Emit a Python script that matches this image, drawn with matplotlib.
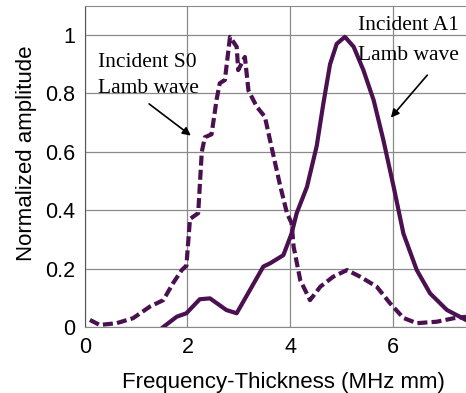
import matplotlib
matplotlib.use('Agg')
import matplotlib.pyplot as plt

# incident S0 Lamb wave (dashed)
s0_x = [0.10, 0.29, 0.62, 0.94, 1.27, 1.53, 1.72, 1.89, 1.98, 2.05, 2.21, 2.28,
        2.34, 2.47, 2.57, 2.63, 2.73, 2.83, 2.96, 2.99, 3.12, 3.19, 3.35, 3.51,
        3.61, 3.80, 3.94, 4.03, 4.07, 4.20, 4.39, 4.59, 4.84, 5.11, 5.37, 5.69,
        5.95, 6.21, 6.47, 6.86, 7.19, 7.43]
s0_y = [0.024, 0.007, 0.013, 0.030, 0.070, 0.092, 0.150, 0.195, 0.210, 0.370,
        0.390, 0.600, 0.650, 0.660, 0.780, 0.835, 0.846, 0.994, 0.960, 0.880,
        0.925, 0.810, 0.755, 0.720, 0.640, 0.490, 0.390, 0.356, 0.275, 0.160,
        0.092, 0.138, 0.172, 0.195, 0.172, 0.138, 0.081, 0.031, 0.013, 0.018,
        0.030, 0.035]

# incident A1 Lamb wave (solid)
a1_x = [1.53, 1.79, 1.98, 2.24, 2.44, 2.76, 2.96, 3.22, 3.48, 3.61, 3.87, 4.03,
        4.13, 4.33, 4.52, 4.65, 4.78, 4.91, 5.07, 5.24, 5.43, 5.63, 5.82, 6.02,
        6.21, 6.47, 6.73, 7.06, 7.43]
a1_y = [0.000, 0.035, 0.047, 0.095, 0.098, 0.058, 0.047, 0.127, 0.207, 0.218,
        0.246, 0.320, 0.390, 0.480, 0.620, 0.766, 0.900, 0.970, 0.994, 0.960,
        0.880, 0.777, 0.640, 0.480, 0.320, 0.195, 0.115, 0.058, 0.024]

x_ticks = [0, 2, 4, 6]
y_ticks = [0, 0.2, 0.4, 0.6, 0.8, 1.0]
y_labels = ['0', '0.2', '0.4', '0.6', '0.8', '1']

color = '#4a1050'
plt.rcParams['font.family'] = ['Liberation Sans', 'DejaVu Sans']

fig = plt.figure(figsize=(4.66, 3.93), dpi=100)
ax = fig.add_axes([0.182, 0.168, 0.818, 0.817])

ax.plot(s0_x, s0_y, color=color, lw=3.0, ls=(0, (2.4, 1.0)))
ax.plot(a1_x, a1_y, color=color, lw=3.0)

ax.set_xlim(0, 7.43)
ax.set_ylim(0, 1.1)
ax.set_xticks(x_ticks)
ax.set_yticks(y_ticks)
ax.set_yticklabels(y_labels)
ax.tick_params(length=0, labelsize=15.5, pad=7)
ax.grid(True, color='#8a8a8a', lw=0.9)
ax.set_axisbelow(True)
ax.spines['right'].set_visible(False)
ax.spines['top'].set_color('#8a8a8a')
ax.spines['bottom'].set_color('#8a8a8a')
ax.spines['left'].set_color('#555555')

ax.set_xlabel('Frequency-Thickness (MHz mm)', fontsize=16)
ax.set_ylabel('Normalized amplitude', fontsize=16)
ax.xaxis.set_label_coords(0.52, -0.14)
ax.yaxis.set_label_coords(-0.126, 0.54)

serif = ['Liberation Serif', 'DejaVu Serif']
ax.text(0.25, 0.907, 'Incident S0', family=serif, fontsize=15.5, va='center')
ax.text(0.25, 0.818, 'Lamb wave', family=serif, fontsize=15.5, va='center')
ax.annotate('', xy=(2.11, 0.65), xytext=(1.21, 0.77),
            arrowprops=dict(arrowstyle='-|>', color='black', lw=1.2,
                            mutation_scale=12))
ax.text(5.33, 1.034, 'Incident A1', family=serif, fontsize=15.5, va='center')
ax.text(5.33, 0.93, 'Lamb wave', family=serif, fontsize=15.5, va='center')
ax.annotate('', xy=(5.93, 0.71), xytext=(6.71, 0.87),
            arrowprops=dict(arrowstyle='-|>', color='black', lw=1.2,
                            mutation_scale=12))

fig.savefig('out.png', dpi=100)
